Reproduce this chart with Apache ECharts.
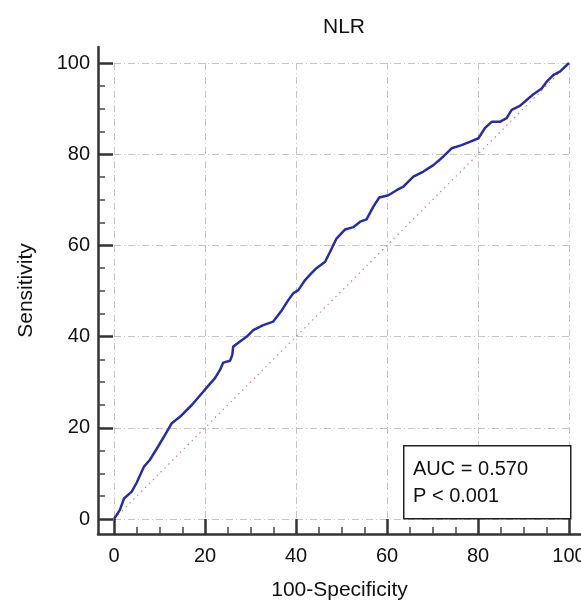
<!DOCTYPE html>
<html>
<head>
<meta charset="utf-8">
<script src="https://cdn.jsdelivr.net/npm/echarts@6/dist/echarts.min.js"></script>
<style>html,body{margin:0;padding:0;background:#fff}#c{width:581px;height:606px}</style>
</head>
<body>
<div id="c"></div>
<script>
var titleText = 'NLR';
var xName = '100-Specificity';
var yName = 'Sensitivity';
var legendLines = ['AUC = 0.570', 'P < 0.001'];
var majorTicks = [0, 20, 40, 60, 80, 100];
var minorTicks = [5, 10, 15, 25, 30, 35, 45, 50, 55, 65, 70, 75, 85, 90, 95];

var rocX = [0, 1.3, 2.2, 3.9, 5, 6.6, 7.9, 9.7, 11.6, 12.7, 14.5, 17.1, 19.6, 20.7, 22.2, 23.3, 24, 25.5, 26, 26.2, 27.7, 29.2, 30.6, 32.8, 35, 36.9, 38.3, 39.4, 40.5, 42, 43.4, 44.5, 46.4, 47.5, 48.9, 50.8, 52.6, 54.1, 55.5, 57, 58.3, 60.3, 62.1, 63.6, 65.8, 68, 70.2, 72.4, 74.2, 76.4, 78.2, 80.1, 81.5, 83, 84.8, 86.3, 87.4, 89.2, 90.7, 92.1, 94, 95.1, 96.6, 98, 100];
var rocY = [0, 2, 4.5, 6, 8, 11.5, 13, 15.9, 19.1, 21, 22.4, 25, 27.9, 29.2, 30.9, 32.7, 34.3, 34.7, 36, 37.8, 38.9, 40, 41.4, 42.5, 43.3, 45.8, 48, 49.5, 50.2, 52.4, 53.9, 55, 56.4, 58.6, 61.5, 63.5, 64, 65.2, 65.7, 68.5, 70.5, 71, 72.1, 72.9, 75.1, 76.2, 77.6, 79.5, 81.3, 82, 82.7, 83.5, 85.7, 87.1, 87.1, 87.9, 89.7, 90.6, 91.9, 93.1, 94.4, 95.9, 97.4, 98.1, 100];
var refX = [0, 100];
var refY = [0, 100];

var FONT = '"Liberation Sans", Arial, Helvetica, sans-serif';
// plot area (data 0..100) and outer axis-line frame, in pixels
var P = {left: 114, right: 569, top: 63, bottom: 519};
var O = {left: 98, right: 581, top: 47, bottom: 534};
var sx = (P.right - P.left) / 100, sy = (P.bottom - P.top) / 100;
var oxMin = -(P.left - O.left) / sx, oxMax = (O.right - P.left) / sx;
var oyMin = -(O.bottom - P.bottom) / sy, oyMax = (P.bottom - O.top) / sy;

function pairs(a, b) { return a.map(function (v, i) { return [v, b[i]]; }); }

var chart = echarts.init(document.getElementById('c'), null, {renderer: 'canvas'});

var gridAxis = function () {
  return {
    type: 'value', min: 0, max: 100, interval: 20, gridIndex: 0,
    axisLine: {show: false, onZero: false}, axisTick: {show: false}, axisLabel: {show: false},
    splitLine: {show: true, lineStyle: {color: '#c4c4c4', width: 1, type: [7, 3, 1, 3]}}
  };
};

var outerMajor = function (isX) {
  return {
    type: 'value', gridIndex: 1,
    min: isX ? oxMin : oyMin, max: isX ? oxMax : oyMax,
    position: isX ? 'bottom' : 'left',
    name: isX ? xName : yName,
    nameLocation: 'middle', nameGap: isX ? 46 : 61,
    nameRotate: isX ? 0 : 90,
    nameTextStyle: {fontFamily: FONT, fontSize: 21, color: '#111'},
    axisLine: {show: true, onZero: false, lineStyle: {color: '#333', width: 2.5}},
    axisTick: {show: true, inside: true, length: 15, customValues: majorTicks,
      lineStyle: {color: '#333', width: 2.5}},
    axisLabel: {show: true, customValues: majorTicks, fontFamily: FONT, fontSize: 20,
      color: '#111', margin: isX ? 12 : 8},
    splitLine: {show: false}
  };
};

var outerMinor = function (isX) {
  return {
    type: 'value', gridIndex: 1,
    min: isX ? oxMin : oyMin, max: isX ? oxMax : oyMax,
    position: isX ? 'bottom' : 'left',
    axisLine: {show: false, onZero: false},
    axisTick: {show: true, inside: true, length: 7, customValues: minorTicks,
      lineStyle: {color: '#444', width: 1.5}},
    axisLabel: {show: false},
    splitLine: {show: false}
  };
};

chart.setOption({
  animation: false,
  backgroundColor: '#fff',
  title: {text: titleText, left: 318, top: 12,
    textStyle: {fontFamily: FONT, fontSize: 21, fontWeight: 'normal', color: '#111'}},
  grid: [
    {left: P.left, width: P.right - P.left, top: P.top, height: P.bottom - P.top, outerBoundsMode: 'none', containLabel: false},
    {left: O.left, width: O.right - O.left, top: O.top, height: O.bottom - O.top, outerBoundsMode: 'none', containLabel: false}
  ],
  xAxis: [gridAxis(), outerMajor(true), outerMinor(true)],
  yAxis: [gridAxis(), outerMajor(false), outerMinor(false)],
  series: [
    {type: 'line', xAxisIndex: 0, yAxisIndex: 0, data: pairs(refX, refY), symbol: 'none',
      lineStyle: {color: '#e07a7a', width: 1.2, type: [1.5, 4]}, z: 2},
    {type: 'line', xAxisIndex: 0, yAxisIndex: 0, data: pairs(rocX, rocY), symbol: 'none',
      lineStyle: {color: '#2a2e9c', width: 2.5}, z: 3}
  ],
  graphic: [
    {type: 'rect', left: 403, top: 445, z: 10,
      shape: {width: 167, height: 73},
      style: {fill: '#fff', stroke: '#222', lineWidth: 1.5}},
    {type: 'text', left: 413, top: 456, z: 11,
      style: {text: legendLines.join('\n'), font: '20px ' + FONT, fill: '#111', lineHeight: 27}}
  ]
});
</script>
</body>
</html>
